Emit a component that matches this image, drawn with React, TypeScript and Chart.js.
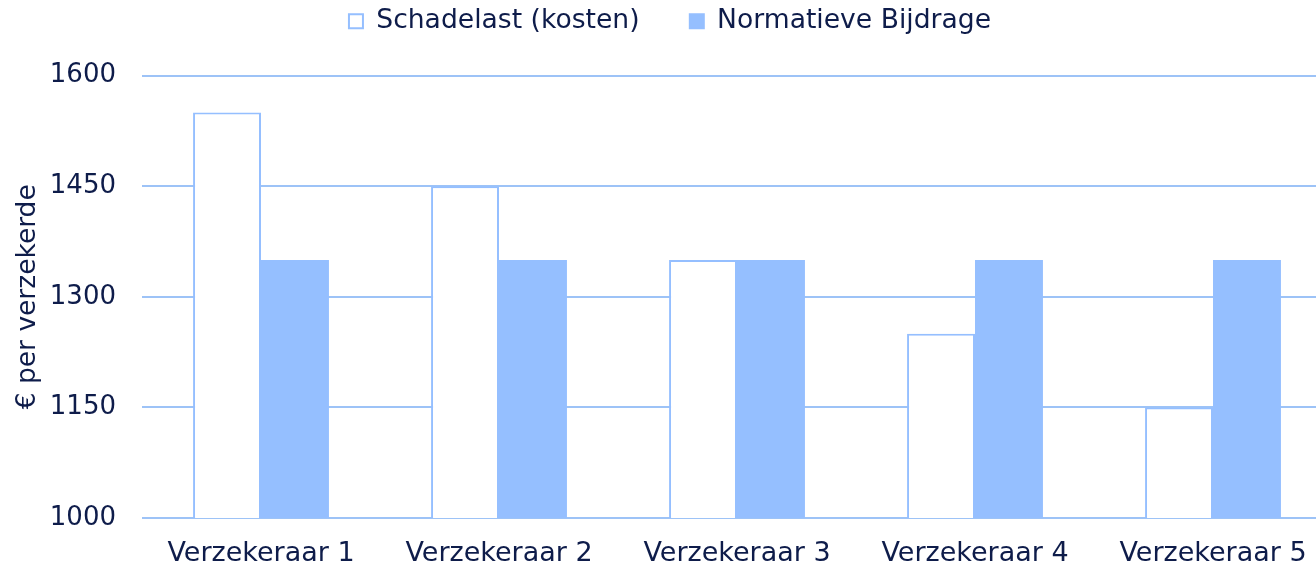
import React, { useEffect, useRef } from "react";
import { Chart, registerables } from "chart.js";

Chart.register(...registerables);

const categories = ["Verzekeraar 1", "Verzekeraar 2", "Verzekeraar 3", "Verzekeraar 4", "Verzekeraar 5"];
const schadelast = [1550, 1450, 1350, 1250, 1150];
const normatieveBijdrage = [1350, 1350, 1350, 1350, 1350];
const seriesNames = ["Schadelast (kosten)", "Normatieve Bijdrage"];
const yTicks = [1000, 1150, 1300, 1450, 1600];
const yTitle = "€ per verzekerde";

const FONT = "'DejaVu Sans', Verdana, sans-serif";
const TEXT = "#0E1C4A";
const BLUE = "#95BFFF";
const GRID = "#9DC3F7";

const legendSpacer = {
  id: "legendSpacer",
  beforeUpdate(chart: any) {
    const lg = chart.legend;
    if (lg && !lg.__patched) {
      const orig = lg.fit;
      lg.fit = function (this: any) {
        orig.call(this);
        this.height += 31;
      };
      lg.__patched = true;
    }
  },
};

export default function App() {
  const ref = useRef<HTMLCanvasElement | null>(null);
  useEffect(() => {
    if (!ref.current) return;
    const chart = new Chart(ref.current, {
      type: "bar",
      data: {
        labels: categories,
        datasets: [
          {
            label: seriesNames[0],
            data: schadelast,
            backgroundColor: "#FFFFFF",
            borderColor: BLUE,
            borderWidth: 2,
            barPercentage: 1,
            categoryPercentage: 0.571,
          },
          {
            label: seriesNames[1],
            data: normatieveBijdrage,
            backgroundColor: BLUE,
            borderColor: BLUE,
            borderWidth: 0,
            barPercentage: 1,
            categoryPercentage: 0.571,
          },
        ],
      },
      plugins: [legendSpacer],
      options: {
        responsive: false,
        animation: false,
        layout: { padding: { left: 8, right: 8, top: 0, bottom: 0 } },
        plugins: {
          tooltip: { enabled: false },
          legend: {
            position: "top",
            labels: {
              color: TEXT,
              font: { family: FONT, size: 26.6 },
              boxWidth: 14,
              boxHeight: 14,
              padding: 8,
              generateLabels: (c: any) =>
                c.data.datasets.map((d: any, i: number) => ({
                  text: i === 0 ? d.label + "     " : d.label,
                  fillStyle: d.backgroundColor,
                  strokeStyle: BLUE,
                  lineWidth: 2,
                  fontColor: TEXT,
                  datasetIndex: i,
                  hidden: false,
                })),
            },
          },
        },
        scales: {
          x: {
            grid: { display: false, drawTicks: false },
            border: { display: false },
            afterFit: (s: any) => {
              s.height = 48;
            },
            ticks: {
              color: TEXT,
              padding: 22,
              font: { family: FONT, size: 27, lineHeight: 1.0 },
              maxRotation: 0,
              autoSkip: false,
            },
          },
          y: {
            min: 1000,
            max: 1600,
            afterBuildTicks: (s: any) => {
              s.ticks = yTicks.map((v) => ({ value: v }));
            },
            afterFit: (s: any) => {
              s.width = 134;
            },
            grid: { color: GRID, lineWidth: 2, drawTicks: false },
            border: { display: false },
            ticks: {
              color: TEXT,
              padding: 26,
              font: { family: FONT, size: 26 },
              callback: (v: any) => String(v),
            },
            title: {
              display: true,
              text: yTitle,
              color: TEXT,
              font: { family: FONT, size: 26.5, lineHeight: 1.2 },
              padding: { top: 4, bottom: 4 },
            },
          },
        },
      },
    });
    return () => chart.destroy();
  }, []);
  return (
    <div style={{ position: "fixed", left: 0, top: 0, width: 1316, height: 566, overflow: "hidden", background: "#fff" }}>
      <canvas ref={ref} width={1340} height={566} style={{ display: "block", width: 1340, height: 566 }} />
    </div>
  );
}
